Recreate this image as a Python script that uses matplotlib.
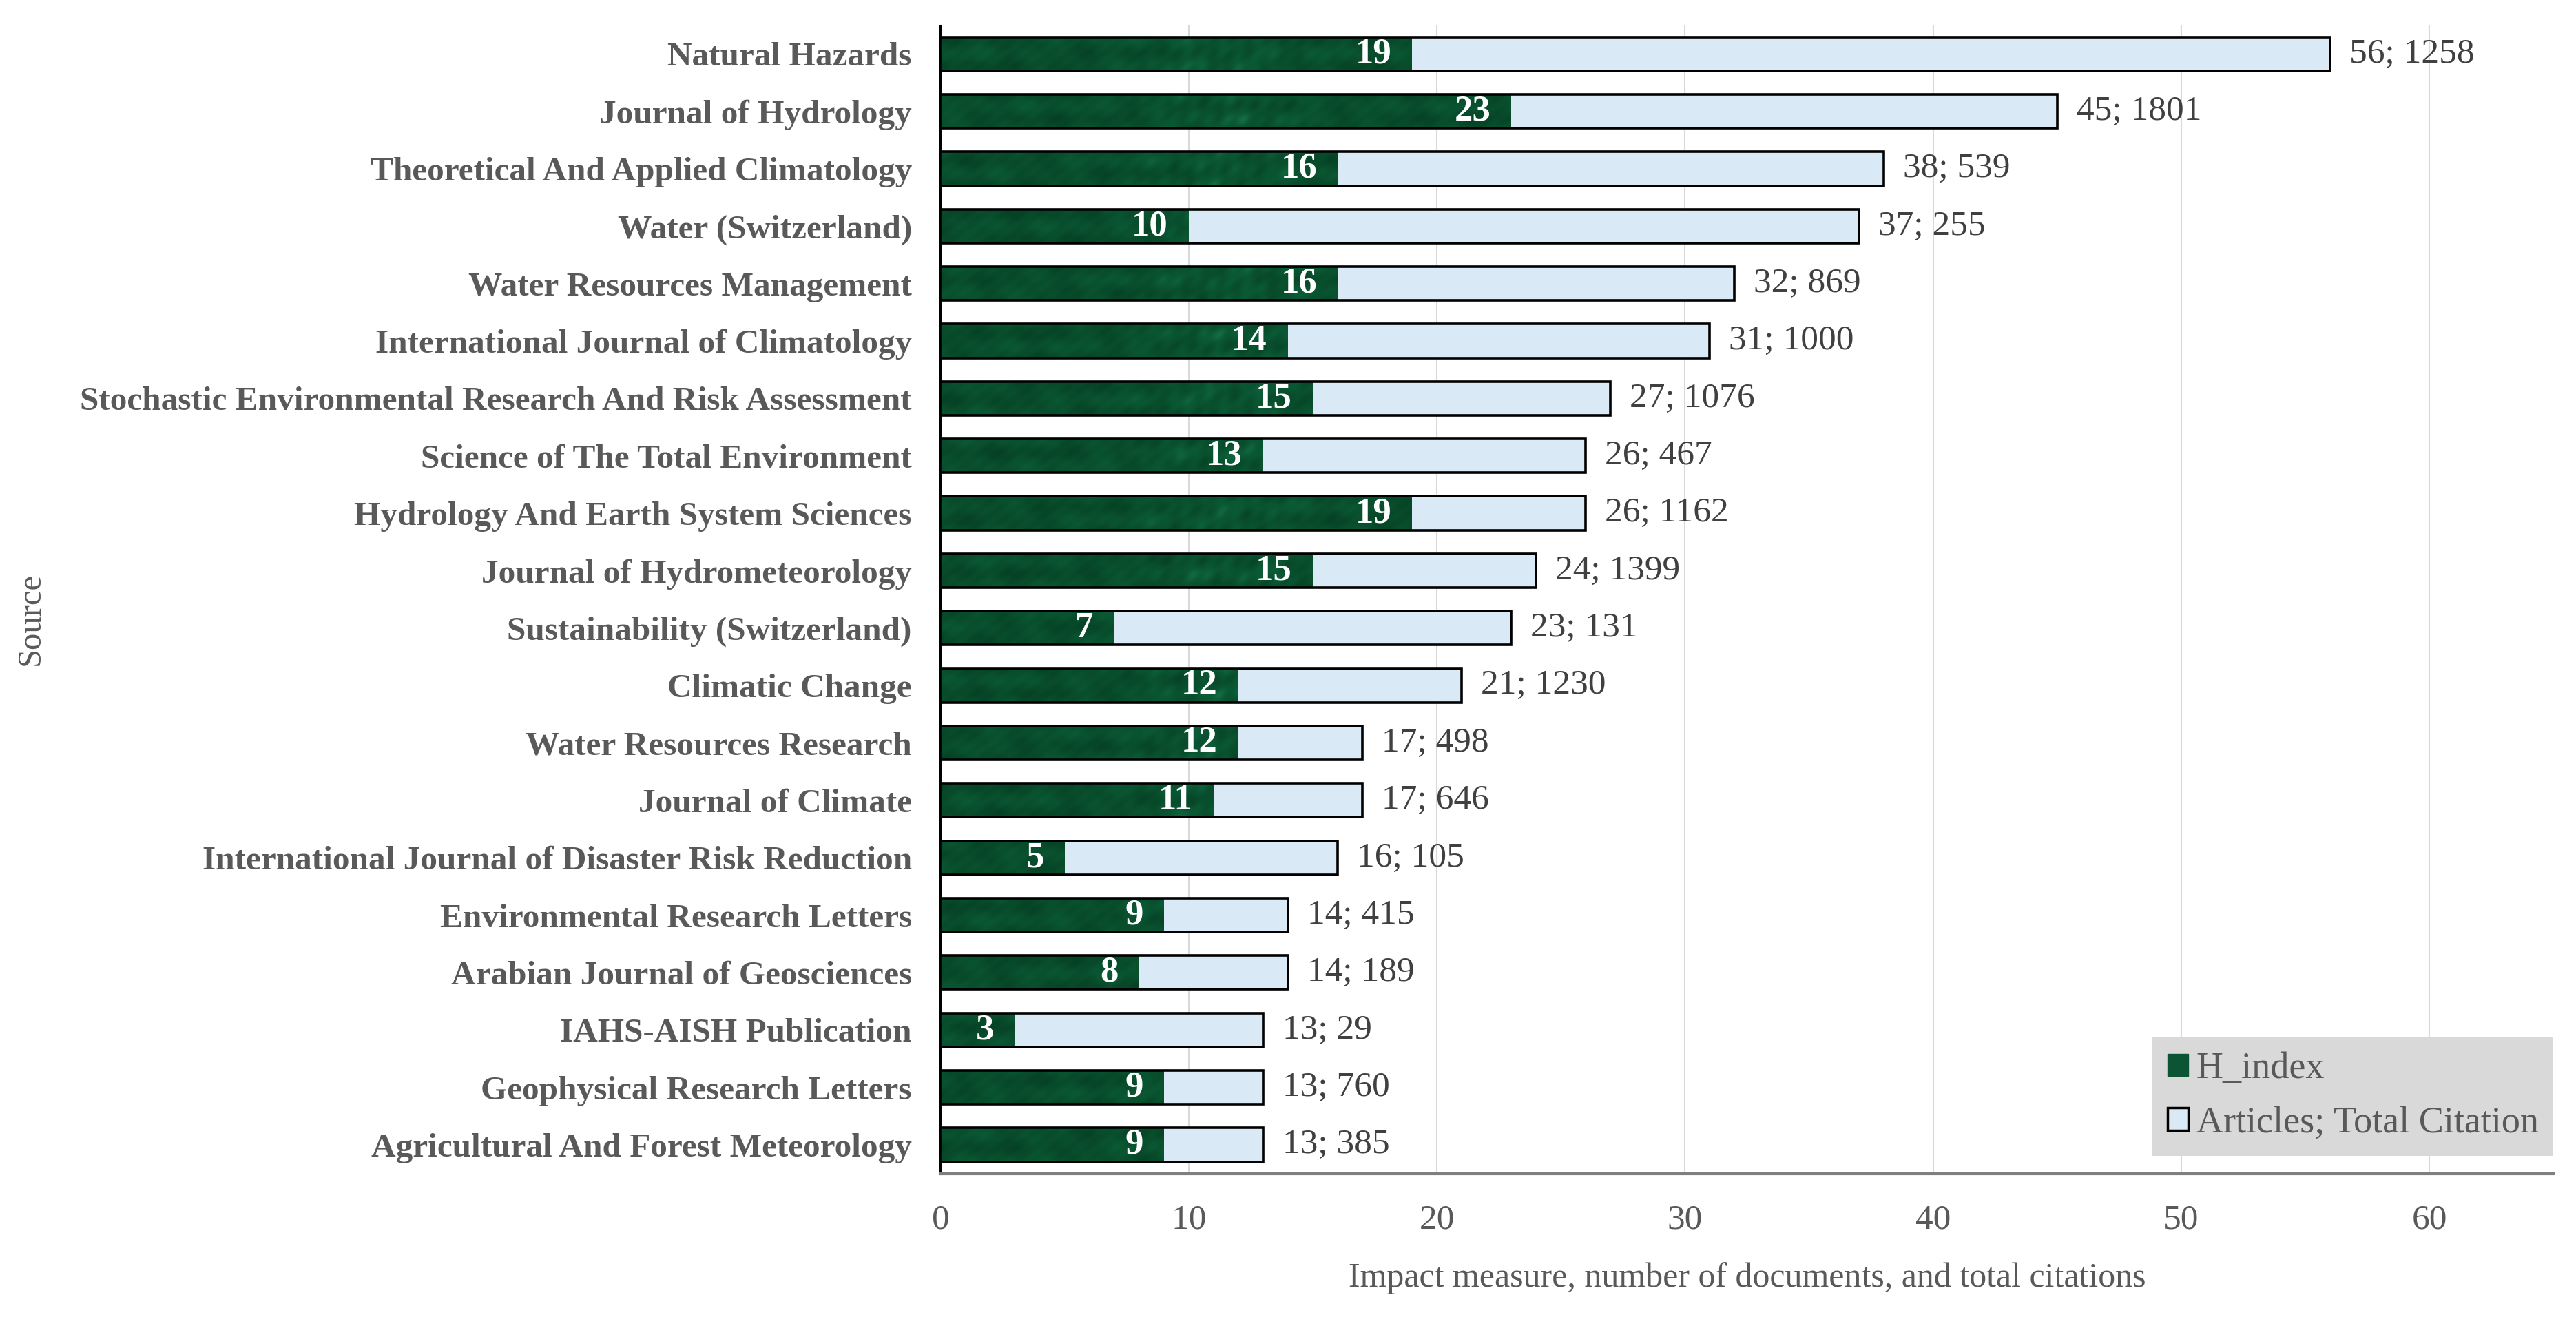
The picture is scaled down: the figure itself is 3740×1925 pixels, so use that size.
import matplotlib
matplotlib.use("Agg")
import matplotlib.pyplot as plt
from matplotlib.colors import LinearSegmentedColormap
import numpy as np

sources = [
    "Natural Hazards",
    "Journal of Hydrology",
    "Theoretical And Applied Climatology",
    "Water (Switzerland)",
    "Water Resources Management",
    "International Journal of Climatology",
    "Stochastic Environmental Research And Risk Assessment",
    "Science of The Total Environment",
    "Hydrology And Earth System Sciences",
    "Journal of Hydrometeorology",
    "Sustainability (Switzerland)",
    "Climatic Change",
    "Water Resources Research",
    "Journal of Climate",
    "International Journal of Disaster Risk Reduction",
    "Environmental Research Letters",
    "Arabian Journal of Geosciences",
    "IAHS-AISH Publication",
    "Geophysical Research Letters",
    "Agricultural And Forest Meteorology",
]
h_index = [19, 23, 16, 10, 16, 14, 15, 13, 19, 15, 7, 12, 12, 11, 5, 9, 8, 3, 9, 9]
articles = [56, 45, 38, 37, 32, 31, 27, 26, 26, 24, 23, 21, 17, 17, 16, 14, 14, 13, 13, 13]
citations = [1258, 1801, 539, 255, 869, 1000, 1076, 467, 1162, 1399,
             131, 1230, 498, 646, 105, 415, 189, 29, 760, 385]

GREEN = "#0b5534"
LIGHT = "#dae9f6"
GRAY = "#595959"

plt.rcParams["font.family"] = ["Liberation Serif", "DejaVu Serif"]

fig = plt.figure(figsize=(37.41, 19.25), dpi=100)
ax = fig.add_axes([0.365, 0.115, 0.626, 0.866])

y = np.arange(len(sources))
bh = 0.59

ax.barh(y, articles, height=bh, color=LIGHT, edgecolor="none", zorder=2)
green_bars = ax.barh(y, h_index, height=bh, color=GREEN, edgecolor="none", zorder=3)
ax.barh(y, articles, height=bh, fill=False, edgecolor="black", linewidth=2.6, zorder=4)

# mottled texture for the green bars (picture fill in the original)
tx, ty = np.meshgrid(np.linspace(0, 25, 700), np.linspace(-0.5, 19.5, 900))
tex = (0.30
       + 0.08 * np.sin(1.3 * tx + 7.0 * ty) * np.sin(0.9 * tx - 5.0 * ty)
       + 0.07 * np.sin(2.1 * tx - 11.0 * ty + 1.0) * np.cos(1.7 * tx + 4.0 * ty)
       + 0.05 * np.sin(4.3 * tx + 13.0 * ty) ** 2
       + 0.18 * np.exp(-((tx - 11.5) / 3.5) ** 2)
       * (0.5 + 0.5 * np.sin(6 * tx + 9 * ty) * np.cos(3 * tx - 5 * ty)))
cmap = LinearSegmentedColormap.from_list("g", ["#03341c", "#0b5a35", "#2f9a66"])
for bar in green_bars:
    im = ax.imshow(tex, extent=(0, 25, 19.5, -0.5), cmap=cmap, vmin=0, vmax=1,
                   aspect="auto", interpolation="bilinear", zorder=3)
    im.set_clip_path(bar)

for yi, h, a, c in zip(y, h_index, articles, citations):
    ax.annotate(str(h), (h, yi), xytext=(-30, 0), textcoords="offset pixels",
                ha="right", va="center", color="white", fontsize=38,
                fontweight="bold", zorder=5)
    ax.annotate(f"{a}; {c}", (a, yi), xytext=(28, 0), textcoords="offset pixels",
                ha="left", va="center", color="#404040", fontsize=37, zorder=5)

ax.set_xlim(0, 65)
ax.set_ylim(len(sources) - 0.5, -0.5)
ax.set_xticks(range(0, 61, 10))
ax.set_yticks(y)
ax.set_yticklabels(sources, fontweight="bold", color=GRAY, fontsize=35.5)
ax.tick_params(axis="y", length=0, pad=30)
ax.tick_params(axis="x", length=0, pad=32, labelsize=37, labelcolor=GRAY)

ax.grid(axis="x", color="#d9d9d9", linewidth=1.5, zorder=0)
ax.set_axisbelow(True)
for s in ["top", "right"]:
    ax.spines[s].set_visible(False)
ax.spines["left"].set_color("black")
ax.spines["left"].set_linewidth(2.2)
ax.spines["bottom"].set_color("#7f7f7f")
ax.spines["bottom"].set_linewidth(3)

ax.set_xlabel("Impact measure, number of documents, and total citations",
              fontsize=36, color=GRAY, labelpad=27)
fig.text(0.012, 0.533, "Source", rotation=90, fontsize=35, color=GRAY,
         ha="center", va="center")

handles = [plt.Rectangle((0, 0), 1, 1, color=GREEN),
           plt.Rectangle((0, 0), 1, 1, facecolor=LIGHT, edgecolor="black", linewidth=2.5)]
leg = ax.legend(handles=handles, labels=["H_index", "Articles; Total Citation"],
                loc="lower right", bbox_to_anchor=(1.0, 0.0156), fontsize=39,
                frameon=True, fancybox=False, handlelength=0.55,
                handleheight=0.55, handletextpad=0.22, labelspacing=0.52,
                borderpad=0.4, borderaxespad=0)
leg.get_frame().set_facecolor("#d9d9d9")
leg.get_frame().set_edgecolor("none")
leg.get_frame().set_alpha(1)
for t in leg.get_texts():
    t.set_color(GRAY)

fig.savefig("out.png", dpi=100)
